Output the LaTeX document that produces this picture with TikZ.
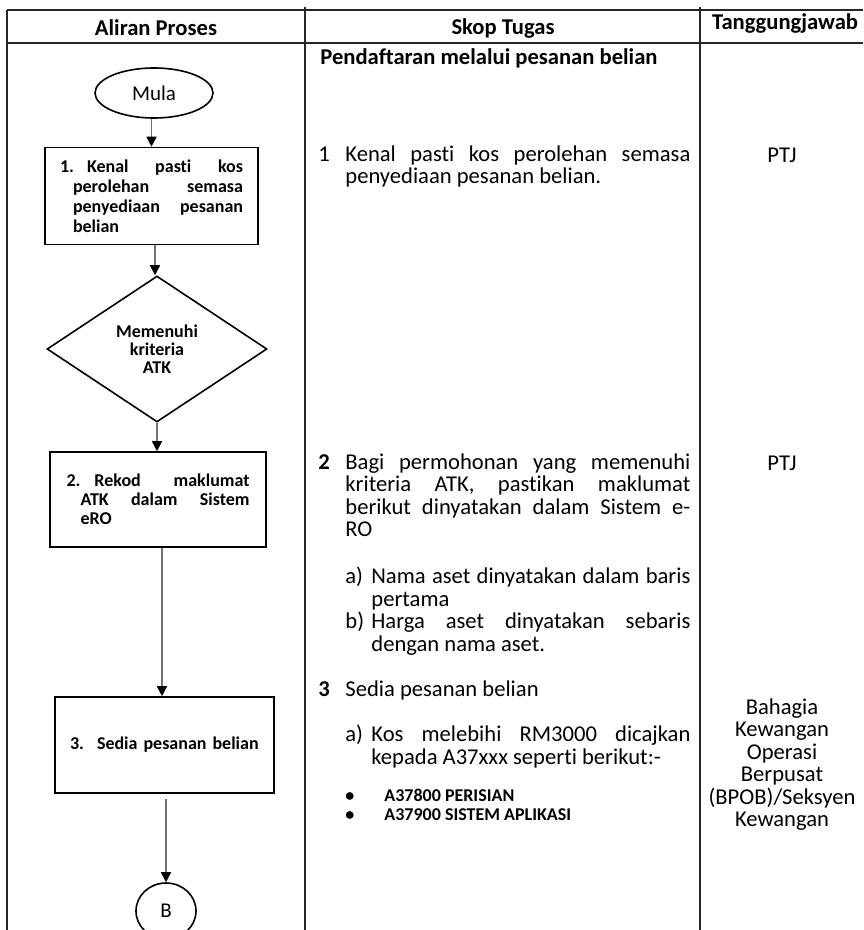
\documentclass[tikz,border=0pt]{standalone}
\usepackage{fontspec}
\setmainfont{Carlito}[Ligatures=NoCommon]
\usetikzlibrary{arrows.meta,shapes.geometric}

\begin{document}
\begin{tikzpicture}[x=0.5pt,y=-0.5pt,
  jadual/.style={line width=1pt,black!85},
  kotak/.style={draw,line width=0.8pt,align=justify,inner ysep=0pt,
    font=\fontsize{9}{10}\selectfont\bfseries},
  putusan/.style={draw,diamond,line width=0.8pt,align=center,inner sep=0pt,
    minimum width=110pt,minimum height=73pt,font=\fontsize{9}{9}\selectfont\bfseries},
  bujur/.style={draw,ellipse,line width=0.8pt,inner sep=0pt,font=\fontsize{10.5}{12}\selectfont},
  aliran/.style={draw=black!55,line width=0.8pt,-{Triangle[width=5pt,length=5pt,black]}},
  tajuk/.style={font=\fontsize{11.3}{12}\selectfont\bfseries,inner sep=0pt},
  teks/.style={anchor=north west,align=justify,inner sep=0pt,
    font=\fontsize{11.3}{11.25}\selectfont},
  tugas/.style={align=center,inner sep=0pt,font=\fontsize{11.3}{11.25}\selectfont}]
\useasboundingbox (0,0) rectangle (863,930);

% jadual
\draw[jadual] (7,10) -- (863,10);
\draw[jadual] (7,43) -- (863,43);
\draw[jadual] (7,10) -- (7,930);
\draw[jadual] (305,7) -- (305,930);
\draw[jadual] (700,7) -- (700,930);
\node[tajuk] (hAliran) at (156,28) {Aliran Proses};
\node[tajuk] (hSkop) at (503,28) {Skop Tugas};
\node[tajuk] (hTgjwb) at (785,23) {Tanggungjawab};

% aliran proses
\node[bujur,minimum width=59pt,minimum height=25pt] (mula) at (154,93) {Mula};
\node[kotak,text width=91.5pt,inner xsep=7.5pt,minimum height=48.5pt] (langkah1) at (151.5,196)
  {\makebox[13.5pt][l]{1.}\hangindent=6.5pt\hangafter=1 Kenal pasti kos\linebreak perolehan semasa\linebreak penyediaan pesanan\linebreak belian\par};
\node[putusan] (atk) at (157,349) {Memenuhi\\kriteria\\ATK};
\node[kotak,text width=91.5pt,inner xsep=8.25pt,minimum height=47.5pt,
  font=\fontsize{9}{9.5}\selectfont\bfseries] (langkah2) at (158,499.5)
  {\makebox[14pt][l]{2.}\hangindent=7pt\hangafter=1 Rekod maklumat\linebreak ATK dalam Sistem\linebreak eRO\par};
\node[kotak,text width=94.5pt,inner xsep=7.5pt,minimum height=48pt,align=left] (langkah3) at (164.5,745)
  {\makebox[13.5pt][l]{3.}Sedia pesanan belian};
\node[bujur,minimum width=30pt,minimum height=28pt] (sambungB) at (166,911) {B};

\draw[aliran] (langkah1.north |- mula.south) -- (langkah1.north);
\draw[aliran] (langkah1.south -| 155,0) -- (atk.north -| 155,0);
\draw[aliran] (atk.south) -- (atk.south |- langkah2.north);
\draw[aliran] (langkah2.south -| 162,0) -- (langkah3.north -| 162,0);
\draw[aliran,shorten <=2.5pt] (sambungB.north |- langkah3.south) -- (sambungB.north);

% skop tugas
\node[teks,font=\fontsize{11.3}{11.25}\selectfont\bfseries,anchor=west] (pendaftaran) at (320,58)
  {Pendaftaran melalui pesanan belian};
\node[teks,text width=186pt] (skop1) at (318,145)
  {\makebox[13.5pt][l]{1}\hangindent=13.5pt\hangafter=1 Kenal pasti kos perolehan semasa\linebreak penyediaan pesanan belian.\par};
\node[teks,text width=186pt] (skop2) at (318,453)
  {\makebox[13.5pt][l]{\bfseries 2}\hangindent=13.5pt\hangafter=1 Bagi permohonan yang memenuhi\linebreak kriteria ATK, pastikan maklumat\linebreak berikut dinyatakan dalam Sistem e-\linebreak RO\par};
\node[teks,text width=172.5pt] (skop2ab) at (345,567)
  {\makebox[13pt][l]{a)}\hangindent=13pt\hangafter=1 Nama aset dinyatakan dalam baris\linebreak pertama\par
   \makebox[13pt][l]{b)}\hangindent=13pt\hangafter=1 Harga aset dinyatakan sebaris\linebreak dengan nama aset.\par};
\node[teks,text width=186pt] (skop3) at (318,680)
  {\makebox[13.5pt][l]{\bfseries 3}Sedia pesanan belian};
\node[teks,text width=172.5pt] (skop3a) at (345,725)
  {\makebox[13pt][l]{a)}\hangindent=13pt\hangafter=1 Kos melebihi RM3000 dicajkan\linebreak kepada A37xxx seperti berikut:-\par};
\node[teks,align=left,font=\fontsize{9}{9.5}\selectfont\bfseries] (vot) at (345,789)
  {\makebox[19.5pt][l]{\textbullet}A37800 PERISIAN\\\makebox[19.5pt][l]{\textbullet}A37900 SISTEM APLIKASI};

% tanggungjawab
\node[tugas] (ptj1) at (782,155) {PTJ};
\node[tugas] (ptj2) at (782,463) {PTJ};
\node[tugas,anchor=north] (bpob) at (782,698)
  {Bahagia\\Kewangan\\Operasi\\Berpusat\\(BPOB)/Seksyen\\Kewangan};
\end{tikzpicture}
\end{document}
